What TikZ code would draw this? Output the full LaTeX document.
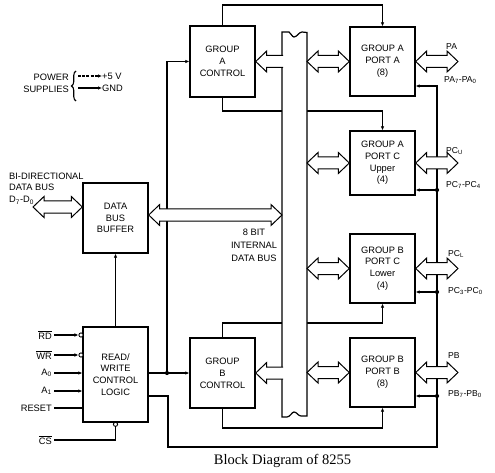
\documentclass[tikz,border=0pt]{standalone}
\usepackage{fontspec}
\setmainfont{Liberation Sans}
\newfontfamily\capfont{Liberation Serif}
\usetikzlibrary{arrows.meta,calc,decorations.pathreplacing}
\newcommand\bfnt{\fontsize{9.3}{11.8}\selectfont}
\newcommand\sfnt{\fontsize{8.6}{12.5}\selectfont}
\tikzset{
  box/.style={draw, line width=1.4pt, inner sep=0pt, align=center, font=\bfnt},
  lbl/.style={inner sep=0pt, font=\sfnt},
  conn/.style={line width=1.1pt},
  sarr/.style={conn, -{Latex[length=4pt,width=3.6pt]}},
  fat/.style={draw, fill=white, line width=1pt, line join=miter},
  bubble/.style={draw, circle, line width=0.9pt, fill=white, inner sep=0pt, minimum size=4.2pt},
  dot/.style={circle, fill, inner sep=0pt, minimum size=4.2pt},
  fatdbl/.style={to path={let \p1=(\tikztostart), \p2=(\tikztotarget) in
     (\x1,\y1) -- (\x1+11pt,\y1+10.5pt) -- (\x1+11pt,\y1+6pt) -- (\x2-11pt,\y1+6pt)
     -- (\x2-11pt,\y1+10.5pt) -- (\x2,\y1) -- (\x2-11pt,\y1-10.5pt) -- (\x2-11pt,\y1-6pt)
     -- (\x1+11pt,\y1-6pt) -- (\x1+11pt,\y1-10.5pt) -- cycle}},
  fatone/.style={to path={let \p1=(\tikztostart), \p2=(\tikztotarget) in
     (\x1,\y1+6pt) -- (\x2+11pt,\y1+6pt) -- (\x2+11pt,\y1+10.5pt) -- (\x2,\y1)
     -- (\x2+11pt,\y1-10.5pt) -- (\x2+11pt,\y1-6pt) -- (\x1,\y1-6pt)}},
}
\begin{document}
\begin{tikzpicture}[x=1pt,y=-1pt]
\useasboundingbox (0,0) rectangle (495,473);

% boxes
\node[box, minimum width=65pt, minimum height=71pt] (gac) at (222.5,61.5) {GROUP\\A\\CONTROL};
\node[box, minimum width=65pt, minimum height=70pt] (gbc) at (222.5,373) {GROUP\\B\\CONTROL};
\node[box, minimum width=65pt, minimum height=69pt] (pa) at (382.5,61.5) {GROUP A\\PORT A\\(8)};
\node[box, minimum width=65pt, minimum height=64pt] (pcu) at (382.5,163) {GROUP A\\PORT C\\Upper\\(4)};
\node[box, minimum width=65pt, minimum height=69pt] (pcl) at (382.5,268.5) {GROUP B\\PORT C\\Lower\\(4)};
\node[box, minimum width=65pt, minimum height=69pt] (pb) at (382.5,372.5) {GROUP B\\PORT B\\(8)};
\node[box, minimum width=65pt, minimum height=70pt] (dbb) at (115.5,218) {DATA\\BUS\\BUFFER};
\node[box, minimum width=65pt, minimum height=95pt] (rw) at (115.5,374.5) {READ/\\WRITE\\CONTROL\\LOGIC};

% helper coordinates
\coordinate (busL) at (282,0);
\coordinate (busR) at (307,0);
\coordinate (outx) at (458,0);
\coordinate (rx) at (437,0);
\coordinate (jl) at (167,373);
\coordinate (bA) at (283,61.5);
\coordinate (bB) at (283,373);
\coordinate (dext) at (33,207);
\coordinate (dbus) at (282,215);

% group control connections
\draw[sarr] (gac.north) -- (gac.north |- 0,5) -| (pa.north);
\draw[sarr] (gac.south) -- (gac.south |- 0,111) -| (pcu.north);
\draw[sarr] (gbc.north) -- (gbc.north |- 0,323) -| (pcl.south);
\draw[sarr] (gbc.south) -- (gbc.south |- 0,428) -| (pb.south);

% read/write logic connections
\draw[sarr] (rw.east |- jl) -- (gbc.west);
\draw[sarr] (jl) |- (gac.west);
\node[dot] (jdot) at (jl) {};
\draw[sarr] (rw.north) -- (dbb.south);
\draw[sarr] (rw.east |- 0,396) -- (168,396) -- (168,447) -- (rx |- 0,447) -- (rx |- 0,86) -- (pa.east |- 0,86);
\node[dot] (j1) at (rx |- 0,190) {};
\node[dot] (j2) at (rx |- 0,292) {};
\node[dot] (j3) at (rx |- 0,396) {};
\draw[sarr] (j1.center) -- (pcu.east |- j1);
\draw[sarr] (j2.center) -- (pcl.east |- j2);
\draw[sarr] (j3.center) -- (pb.east |- j3);

% input pins
\node[bubble] (rdb) at (81,335) {};
\node[bubble] (wrb) at (81,355) {};
\node[bubble] (csb) at (115.5,424.3) {};
\node[lbl, anchor=east, font=\bfnt] (lrd) at (52,335) {$\overline{\hbox{RD}}$};
\node[lbl, anchor=east, font=\bfnt] (lwr) at (52,355) {$\overline{\hbox{WR}}$};
\node[lbl, anchor=east, font=\bfnt] (la0) at (52,373) {A\textsubscript{0}};
\node[lbl, anchor=east, font=\bfnt] (la1) at (52,391) {A\textsubscript{1}};
\node[lbl, anchor=east, font=\bfnt] (lrs) at (52,408) {RESET};
\node[lbl, anchor=east, font=\bfnt] (lcs) at (52,440) {$\overline{\hbox{CS}}$};
\draw[sarr] ($(lrd.east)+(2,0)$) -- (rdb.west);
\draw[sarr] ($(lwr.east)+(2,0)$) -- (wrb.west);
\draw[sarr] ($(la0.east)+(2,0)$) -- (rw.west |- la0);
\draw[sarr] ($(la1.east)+(2,0)$) -- (rw.west |- la1);
\draw[conn] ($(lrs.east)+(2,0)$) -- (rw.west |- lrs);
\draw[conn] ($(lcs.east)+(2,0)$) -| (csb.south);

% power supplies
\node[lbl, anchor=east, font=\bfnt] (pw) at (69,77) {POWER};
\node[lbl, anchor=east, font=\bfnt] (sp) at (69,89.5) {SUPPLIES};
\draw[conn, decorate, decoration={brace, amplitude=4.5pt}] (76,101) -- (76,71);
\node[lbl, anchor=west, font=\bfnt] (v5) at (102,76) {+5 V};
\node[lbl, anchor=west, font=\bfnt] (gnd) at (102,88) {GND};
\coordinate (p1) at (78,76);
\coordinate (p2) at (78,88);
\draw[sarr, dash pattern=on 3pt off 1.2pt] (p1) -- (v5.west);
\draw[sarr] (p2) -- (gnd.west);

% internal bus
\draw[line width=1.2pt, fill=white] (282,417) -- (282,32) -- (289,32)
  .. controls (291,33) and (292,37) .. (294,37)
  .. controls (297,37) and (299,32) .. (302,32) -- (307,32.5) -- (307,416) -- (301,416)
  .. controls (298,416) and (297,412) .. (294,412)
  .. controls (292,412) and (290,417) .. (287,417) -- cycle;

% fat arrows
\draw[fat] (dext) to[fatdbl] (dbb.west |- dext);
\draw[fat] (dbb.east |- dbus) to[fatdbl] (dbus);
\draw[fat] (bA) to[fatone] (gac.east);
\draw[fat] (bB) to[fatone] (gbc.east);
\draw[fat] (busR |- pa.west) to[fatdbl] (pa.west);
\draw[fat] (busR |- pcu.west) to[fatdbl] (pcu.west);
\draw[fat] (busR |- pcl.west) to[fatdbl] (pcl.west);
\draw[fat] (busR |- pb.west) to[fatdbl] (pb.west);
\draw[fat] (pa.east) to[fatdbl] (outx |- pa.east);
\draw[fat] (pcu.east) to[fatdbl] (outx |- pcu.east);
\draw[fat] (pcl.east) to[fatdbl] (outx |- pcl.east);
\draw[fat] (pb.east) to[fatdbl] (outx |- pb.east);

% labels
\node[lbl, anchor=west, font=\bfnt, align=left] (ldb) at (9,188.5) {BI-DIRECTIONAL\\DATA BUS\\D\textsubscript{7}-D\textsubscript{0}};
\node[lbl, align=center, font={\fontsize{9.3}{12.8}\selectfont}] (lbus) at (254,245) {8 BIT\\INTERNAL\\DATA BUS};
\node[lbl, anchor=west] (lpa) at (446,47) {PA};
\node[lbl, anchor=west] (lpa2) at (444,80) {PA\textsubscript{7}-PA\textsubscript{0}};
\node[lbl, anchor=west] (lpcu) at (446,151) {PC\textsubscript{U}};
\node[lbl, anchor=west] (lpcu2) at (446,185) {PC\textsubscript{7}-PC\textsubscript{4}};
\node[lbl, anchor=west] (lpcl) at (448,254) {PC\textsubscript{L}};
\node[lbl, anchor=west] (lpcl2) at (448,291) {PC\textsubscript{3}-PC\textsubscript{0}};
\node[lbl, anchor=west] (lpb) at (448,356) {PB};
\node[lbl, anchor=west] (lpb2) at (448,394) {PB\textsubscript{7}-PB\textsubscript{0}};

% caption
\node[inner sep=0pt, font={\capfont\fontsize{14.5}{16}\selectfont}] (cap) at (282.5,461) {Block Diagram of 8255};
\end{tikzpicture}
\end{document}
